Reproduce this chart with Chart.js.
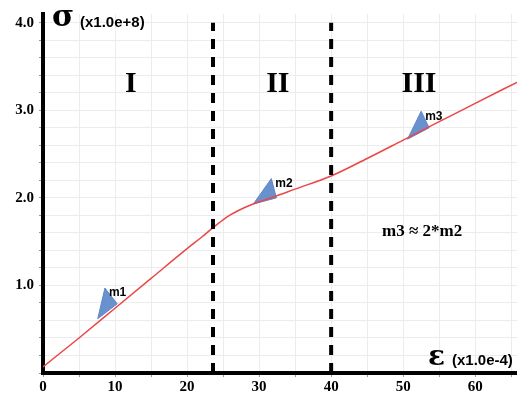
<!DOCTYPE html>
<html>
<head>
<meta charset="utf-8">
<script src="https://cdn.jsdelivr.net/npm/chart.js@4"></script>
<style>
  html, body { margin: 0; padding: 0; background: #fff; }
  #wrap { width: 517px; height: 393px; }
</style>
</head>
<body>
<div id="wrap"><canvas id="stressChart"></canvas></div>
<script>
// strain (x1.0e-4) and stress (x1.0e+8)
const strain = [0, 5, 10, 15, 20, 22, 23.6, 25, 26, 27, 28, 29, 30, 32, 35, 40, 45, 50, 55, 60, 65.8];
const stress = [0.07, 0.40, 0.74, 1.08, 1.42, 1.55, 1.66, 1.75, 1.805, 1.85, 1.89, 1.925, 1.955, 2.01, 2.10, 2.25, 2.45, 2.66, 2.87, 3.08, 3.32];

// region borders
const borders = [23.6, 40];
const regionNames = ["I", "II", "III"];
const regionCenters = [12.2, 32.6, 52.2];

// slope triangles (x, y corners) and their names
const slopeNames = ["m1", "m2", "m3"];
const triX = [[7.6, 8.6, 10.3], [29.2, 31.7, 32.4], [50.6, 52.5, 53.6]];
const triY = [[0.62, 0.97, 0.79], [1.93, 2.22, 2.00], [2.67, 2.99, 2.80]];

const xMax = 65.8;
const yMax = 4.1;

const datasets = [];

// Stress-strain curve
datasets.push({
  data: strain.map((x, i) => ({ x: x, y: stress[i] })),
  borderColor: "rgb(235, 70, 70)",
  borderWidth: 1.5,
  pointRadius: 0,
  cubicInterpolationMode: "monotone",
  order: 2,
});

// Dashed region borders
borders.forEach((b) => {
  datasets.push({
    data: [{ x: b, y: 0 }, { x: b, y: 4.0 }],
    borderColor: "#000",
    borderWidth: 4,
    borderDash: [10, 8],
    pointRadius: 0,
    order: 1,
  });
});

// Slope triangles
triX.forEach((xs, k) => {
  const pts = xs.map((x, i) => ({ x: x, y: triY[k][i] }));
  pts.push(pts[0]);
  datasets.push({
    data: pts,
    borderColor: "rgb(95, 135, 200)",
    backgroundColor: "rgb(105, 145, 205)",
    borderWidth: 1,
    fill: "shape",
    pointRadius: 0,
    tension: 0,
    order: 3,
  });
});

// Function to draw the labels on top of the plot
const textPlugin = {
  id: "texts",
  afterDatasetsDraw(chart) {
    const ctx = chart.ctx;
    const xs = chart.scales.x;
    const ys = chart.scales.y;
    ctx.save();
    ctx.fillStyle = "#000";
    ctx.textBaseline = "middle";

    // Roman numerals
    ctx.textAlign = "center";
    ctx.font = "bold 30px 'Liberation Serif'";
    regionNames.forEach((name, i) => {
      ctx.fillText(name, xs.getPixelForValue(regionCenters[i]), ys.getPixelForValue(3.3));
    });

    // slope names next to the top corner
    ctx.textAlign = "left";
    ctx.font = "bold 12px Arial";
    slopeNames.forEach((name, k) => {
      const px = xs.getPixelForValue(triX[k][1]) + 4;
      const py = ys.getPixelForValue(triY[k][1]) + 5;
      ctx.fillText(name, px, py);
    });

    // relation
    ctx.font = "bold 17px 'Liberation Serif'";
    ctx.fillText("m3 \u2248 2*m2", 382, 232);

    // axis titles
    ctx.font = "bold 30px 'DejaVu Serif'";
    ctx.fillText("\u03c3", 52, 18);
    ctx.font = "bold 15px Arial";
    ctx.fillText("(x1.0e+8)", 80, 23);

    ctx.font = "bold 28px 'DejaVu Serif'";
    ctx.fillText("\u03b5", 428, 358);
    ctx.font = "bold 15px Arial";
    ctx.fillText("(x1.0e-4)", 452, 361);
    ctx.restore();
  },
};

const isWhole = (v, step) => Math.abs(v / step - Math.round(v / step)) < 1e-6;

// evenly spaced ticks up to a limit (keeps the last one next to the max)
const makeTicks = (step, limit) => {
  const out = [];
  for (let i = 0; i * step <= limit + 1e-9; i++) {
    out.push({ value: +(i * step).toFixed(4) });
  }
  return out;
};

new Chart(document.getElementById("stressChart"), {
  type: "line",
  data: { datasets: datasets },
  options: {
    responsive: true,
    maintainAspectRatio: false,
    animation: false,
    layout: { padding: { top: 7, right: 0, left: 0, bottom: 0 } },
    plugins: { legend: { display: false }, tooltip: { enabled: false } },
    scales: {
      x: {
        type: "linear",
        min: 0,
        max: xMax,
        border: { color: "#000", width: 4 },
        grid: { color: "#ececec", tickColor: "#999", tickLength: 4 },
        afterBuildTicks: (scale) => { scale.ticks = makeTicks(5, 65); },
        ticks: {
          autoSkip: false,
          maxRotation: 0,
          padding: 1,
          color: "#000",
          font: { family: "'Liberation Serif'", size: 15, weight: "bold" },
          callback: (v) => (isWhole(v, 10) ? String(v) : ""),
        },
        afterFit: (scale) => { scale.height = 20; },
      },
      y: {
        type: "linear",
        min: 0,
        max: yMax,
        border: { color: "#000", width: 4 },
        grid: { color: "#ececec", tickColor: "#999", tickLength: 4 },
        afterBuildTicks: (scale) => { scale.ticks = makeTicks(0.2, 4.0); },
        ticks: {
          autoSkip: false,
          padding: 5,
          color: "#000",
          font: { family: "'Liberation Serif'", size: 15, weight: "bold" },
          callback: (v) => (isWhole(v, 1) && v > 0 ? v.toFixed(1) : ""),
        },
        afterFit: (scale) => { scale.width = 43; },
      },
    },
  },
  plugins: [textPlugin],
});
</script>
</body>
</html>
